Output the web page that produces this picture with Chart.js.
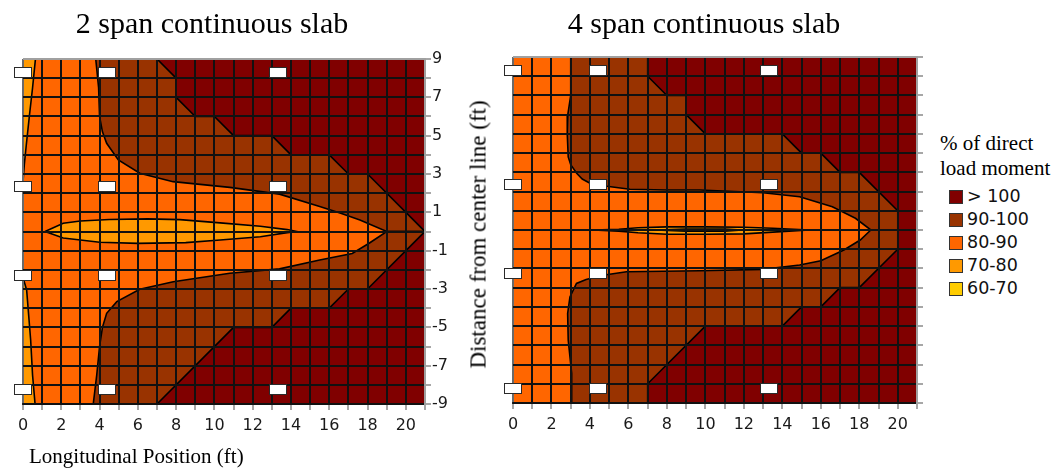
<!DOCTYPE html>
<html>
<head>
<meta charset="utf-8">
<script src="https://cdn.jsdelivr.net/npm/chart.js@4.4.1/dist/chart.umd.min.js"></script>
<style>
  html, body { margin: 0; padding: 0; background: #fff; }
  #page { position: relative; width: 1059px; height: 472px; overflow: hidden; background: #fff; }
  #page canvas { position: absolute; top: 0; }
  .serif { position: absolute; white-space: nowrap; line-height: 1; color: #000;
           font-family: "Liberation Serif", "Times New Roman", serif; }
  .sans { position: absolute; white-space: nowrap; line-height: 1; color: #111;
          font-family: "DejaVu Sans", Verdana, sans-serif; }
  .swatch { position: absolute; box-sizing: border-box; border: 1.5px solid #333; }
</style>
</head>
<body>
<div id="page">
  <canvas id="twoSpan" width="470" height="472" style="left:0px"></canvas>
  <canvas id="fourSpan" width="470" height="472" style="left:470px"></canvas>

  <div class="serif" style="left:12px; top:8px; width:400px; text-align:center; font-size:30px;">2 span continuous slab</div>
  <div class="serif" style="left:504px; top:8px; width:400px; text-align:center; font-size:30px;">4 span continuous slab</div>
  <div class="serif" style="left:29px; top:446px; font-size:21px;">Longitudinal Position (ft)</div>
  <div class="serif" style="left:328px; top:222.5px; width:300px; height:23px; text-align:center; font-size:23px; transform:rotate(-90deg); transform-origin:150px 11.5px;">Distance from center line (ft)</div>

  <div class="serif" style="left:940px; top:133px; font-size:21px;">% of direct</div>
  <div class="serif" style="left:940px; top:158px; font-size:21px;">load moment</div>
  <div id="legend"></div>
</div>

<script>
// ---- contour bands and their legend ----
const bandLabels = ['> 100', '90-100', '80-90', '70-80', '60-70'];
const bandColors = ['#800000', '#993300', '#FF6600', '#FF9900', '#FFCC00'];

// ---- axis labels ----
const xLabelValues = [0, 2, 4, 6, 8, 10, 12, 14, 16, 18, 20];
const yLabelValues = [9, 7, 5, 3, 1, -1, -3, -5, -7, -9];
const xRange = [0, 21];
const yRange = [-9, 9];

// ---- load marker positions (ft) ----
const markerX = [0, 4.4, 13.3];
const markerY = [8.3, 2.4, -2.25, -8.2];

// ---- 2 span slab: band outlines [x (ft), y (ft)] ----
const twoSpanWhole = [[0, -9], [21, -9], [21, 9], [0, 9], [0, -9]];
const twoSpan90Top = [[3.8, 9], [3.95, 7.5], [4.0, 6.0], [4.15, 5.2], [4.37, 4.6], [4.98, 3.73], [6.1, 3.04],
  [7.84, 2.6], [10.8, 2.3], [13.4, 1.95], [15.5, 1.3], [16.6, 0.95], [17.6, 0.6], [19.0, 0],
  [21, 0], [21, 9], [3.8, 9]];
const twoSpan90Bottom = [[3.67, -9], [3.85, -7.5], [4.0, -6.0], [4.15, -5.0], [4.37, -4.27], [4.9, -3.66],
  [6.1, -3.01], [7.85, -2.62], [10.8, -2.18], [13.4, -1.95], [15.5, -1.49], [17.2, -1.15], [18.1, -0.6],
  [19.0, 0], [21, 0], [21, -9], [3.67, -9]];
const twoSpanOver100Top = [[7, 9], [8, 8], [8, 7], [9, 6], [10, 6], [11, 5], [13, 5], [14, 4], [16, 4],
  [17, 3], [18, 3], [21, 0], [21, 9], [7, 9]];
const twoSpanOver100Bottom = [[7, -9], [11, -5], [13, -5], [14, -4], [16, -4], [17, -3], [18, -3],
  [21, 0], [21, -9], [7, -9]];
const twoSpan70Top = [[0, 9], [0.65, 9], [0.5, 7.5], [0.33, 6.0], [0.17, 4.5], [0.07, 3.5], [0, 2.6], [0, 9]];
const twoSpan70Bottom = [[0, -9], [0.63, -9], [0.5, -7.5], [0.4, -5.66], [0.19, -3.05], [0, -2.4], [0, -9]];
const twoSpan70Middle = [[1.15, 0], [2.1, 0.43], [3.0, 0.55], [4.5, 0.63], [6.5, 0.66], [8.2, 0.62],
  [10.3, 0.45], [12.4, 0.27], [13.8, 0.1], [14.3, 0], [13.8, -0.06], [12.4, -0.27], [10.3, -0.44],
  [8.5, -0.58], [6.0, -0.62], [4.0, -0.56], [3.0, -0.44], [2.1, -0.34], [1.15, 0]];

// ---- 4 span slab: band outlines [x (ft), y (ft)] ----
const fourSpanWhole = [[0, -9], [21, -9], [21, 9], [0, 9], [0, -9]];
const fourSpan90Top = [[3.0, 9], [3.0, 7.0], [2.85, 6.0], [2.82, 5.0], [2.87, 3.8], [3.0, 3.4], [3.31, 2.95],
  [3.6, 2.65], [4.0, 2.43], [4.78, 2.29], [6.08, 2.12], [8.0, 2.08], [9.72, 2.08], [13.0, 1.94],
  [14.9, 1.73], [16.6, 1.21], [17.8, 0.61], [18.6, 0], [21, 0], [21, 9], [3.0, 9]];
const fourSpan90Bottom = [[3.05, -9], [3.05, -7.46], [2.87, -5.72], [2.84, -4.34], [2.96, -3.48], [3.3, -2.78],
  [3.8, -2.57], [4.76, -2.34], [5.9, -2.17], [9.72, -2.12], [13.0, -2.05], [14.9, -1.82], [16.0, -1.6],
  [17.2, -1.04], [18.05, -0.52], [18.6, 0], [21, 0], [21, -9], [3.05, -9]];
const fourSpanOver100Top = [[7, 9], [7, 8], [8, 7], [9, 7], [9, 6], [10, 5], [14, 5], [15, 4], [16, 4],
  [17, 3], [18, 3], [20, 1], [20, 0], [21, 0], [21, 9], [7, 9]];
const fourSpanOver100Bottom = [[7, -9], [7, -8], [10, -5], [14, -5], [15, -4], [16, -4], [17, -3], [18, -3],
  [20, -1], [20, 0], [21, 0], [21, -9], [7, -9]];
const fourSpan70Middle = [[4.17, 0], [5.5, 0.04], [6.5, 0.12], [8.0, 0.16], [10.0, 0.16], [12.0, 0.14],
  [13.5, 0.09], [15.4, 0], [13.5, -0.11], [12.0, -0.2], [10.0, -0.22], [8.0, -0.22], [6.5, -0.14],
  [5.5, -0.06], [4.17, 0]];
const fourSpan60Middle = [[7.1, 0], [9.0, 0.06], [11.0, 0.06], [12.1, 0], [11.0, -0.08], [9.0, -0.08], [7.1, 0]];

// ---- legend ----
const legendBox = document.getElementById('legend');
const legendTop = [197, 220, 242.5, 265.5, 288.5];
bandLabels.forEach((label, i) => {
  const sw = document.createElement('div');
  sw.className = 'swatch';
  sw.style.cssText = `left:949px; top:${legendTop[i] - 7}px; width:14px; height:14px; background:${bandColors[i]};`;
  legendBox.appendChild(sw);
  const tx = document.createElement('div');
  tx.className = 'sans';
  tx.style.cssText = `left:967px; top:${legendTop[i] - 8.6}px; font-size:17.5px;`;
  tx.textContent = label;
  legendBox.appendChild(tx);
});

// ---- drawing ----
const markerPlugin = {
  id: 'loadMarkers',
  afterDraw(chart) {
    const { ctx } = chart;
    const xs = chart.scales.x, ys = chart.scales.y;
    ctx.save();
    for (const my of markerY) {
      for (const mx of markerX) {
        const px = Math.round(xs.getPixelForValue(mx));
        const py = Math.round(ys.getPixelForValue(my));
        ctx.fillStyle = '#ffffff';
        ctx.fillRect(px - 9, py - 5, 18, 11);
        ctx.strokeStyle = '#2a2a2a';
        ctx.lineWidth = 1;
        ctx.strokeRect(px - 8.5, py - 4.5, 17, 10);
      }
    }
    ctx.restore();
  }
};

// Each band is a closed outline: filled with its colour and traced in black.
// Outline parts lying on the frame or on grid lines are hidden by the grid drawn above.
function contourChart(canvasId, layers, frame) {
  const datasets = layers.map((layer, i) => ({
    type: 'line',
    data: layer.pts.map(p => ({ x: p[0], y: p[1] })),
    backgroundColor: layer.color,
    borderColor: layer.outline ? '#000' : 'rgba(0,0,0,0)',
    borderWidth: layer.outline ? (layer.thin ? 1.1 : 1.6) : 0,
    fill: 'shape',
    pointRadius: 0,
    pointHoverRadius: 0,
    tension: 0,
    clip: 0,
    order: layers.length - i
  }));

  return new Chart(document.getElementById(canvasId), {
    type: 'line',
    data: { datasets },
    options: {
      responsive: false,
      animation: false,
      events: [],
      layout: { padding: { left: frame.left, top: frame.top, right: 0, bottom: 0 } },
      plugins: { legend: { display: false }, tooltip: { enabled: false } },
      scales: {
        x: {
          type: 'linear',
          position: 'bottom',
          min: xRange[0],
          max: xRange[1],
          afterFit: s => { s.height = frame.xHeight; },
          ticks: {
            stepSize: 1,
            autoSkip: false,
            maxRotation: 0,
            padding: 6,
            color: '#1a1a1a',
            font: { family: 'DejaVu Sans', size: 16 },
            callback: v => xLabelValues.includes(v) ? String(v) : ''
          },
          grid: {
            z: 1,
            lineWidth: 2,
            color: c => (c.tick && c.tick.value === xRange[0]) ? '#6a6a6a' : '#111',
            drawTicks: true,
            tickLength: 6,
            tickWidth: 1.5,
            tickColor: '#8a8a8a'
          },
          border: { z: 1, color: '#222', width: 2 }
        },
        y: {
          type: 'linear',
          position: 'right',
          min: yRange[0],
          max: yRange[1],
          afterFit: s => { s.width = frame.yWidth; },
          ticks: {
            stepSize: 1,
            autoSkip: false,
            padding: 1,
            color: '#1a1a1a',
            font: { family: 'DejaVu Sans', size: 16 },
            callback: v => (frame.yLabels && yLabelValues.includes(v)) ? String(v) : ''
          },
          grid: {
            z: 1,
            lineWidth: 2,
            color: c => (c.tick && c.tick.value === yRange[1]) ? '#a0a0a0' : '#111',
            drawTicks: true,
            tickLength: 6,
            tickWidth: 1.5,
            tickColor: '#8a8a8a'
          },
          border: { z: 1, color: '#a0a0a0', width: 2 }
        }
      }
    },
    plugins: [markerPlugin]
  });
}

const [cOver100, c90, c80, c70, c60] = bandColors;

contourChart('twoSpan', [
  { pts: twoSpanWhole, color: c80, outline: false },
  { pts: twoSpan90Top, color: c90, outline: true },
  { pts: twoSpan90Bottom, color: c90, outline: true },
  { pts: twoSpanOver100Top, color: cOver100, outline: true },
  { pts: twoSpanOver100Bottom, color: cOver100, outline: true },
  { pts: twoSpan70Top, color: c70, outline: true },
  { pts: twoSpan70Bottom, color: c70, outline: true },
  { pts: twoSpan70Middle, color: c70, outline: true }
], { left: 23, top: 59, xHeight: 68, yWidth: 45, yLabels: true });

contourChart('fourSpan', [
  { pts: fourSpanWhole, color: c80, outline: false },
  { pts: fourSpan90Top, color: c90, outline: true },
  { pts: fourSpan90Bottom, color: c90, outline: true },
  { pts: fourSpanOver100Top, color: cOver100, outline: true },
  { pts: fourSpanOver100Bottom, color: cOver100, outline: true },
  { pts: fourSpan70Middle, color: c70, outline: true },
  { pts: fourSpan60Middle, color: c60, outline: true, thin: true }
], { left: 43, top: 57, xHeight: 69, yWidth: 23, yLabels: false });
</script>
</body>
</html>
